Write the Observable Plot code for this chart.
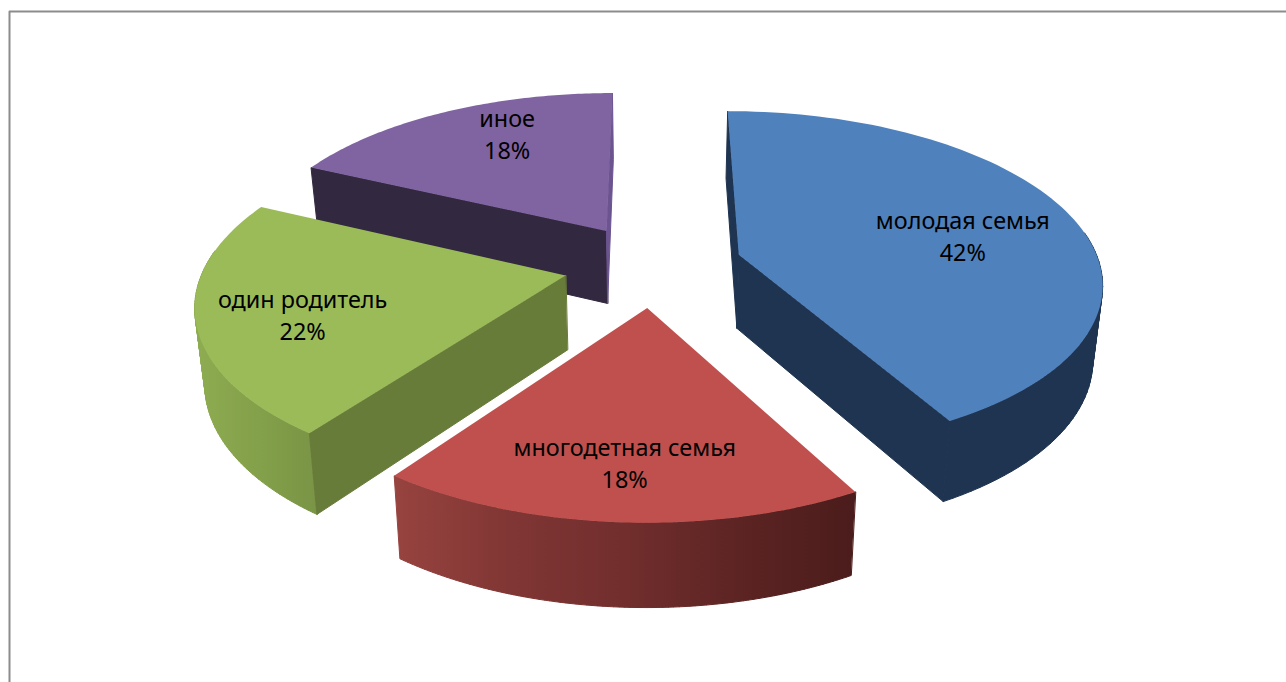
<!DOCTYPE html>
<html lang="ru">
<head>
<meta charset="utf-8">
<style>
html,body{margin:0;padding:0;background:#fff;overflow:hidden}
svg{display:block}
</style>
<script src="https://cdn.jsdelivr.net/npm/d3@7"></script>
<script src="https://cdn.jsdelivr.net/npm/@observablehq/plot@0.6"></script>
</head>
<body>
<script>
// ---- data ----
const categories = ["молодая семья", "многодетная семья", "один родитель", "иное"];
const shares = [42, 18, 22, 18];

// ---- styling ----
const topColors = ["#4f81bd", "#c0504d", "#9bbb59", "#8064a2"];
const startWallColors = ["#1f3450", null, "#687c3a", "#32283f"];
const endWallColors = ["#1f3450", null, null, "#6b5490"];
const rimStops = [
  [[0, "#1f3450"], [1, "#1f3450"]],
  [[0, "#97433f"], [0.25, "#803634"], [0.5, "#712e2d"], [0.75, "#5c2423"], [1, "#4a1c1b"]],
  [[0, "#8dab50"], [0.5, "#83a04a"], [1, "#799445"]],
  [[0, "#6b5490"], [1, "#6b5490"]]
];
const rimExtent = [[940, 1105], [395, 855], [200, 318], [310, 615]];
const labelRadius = [0.65, 0.76, 0.726, 0.74];
const labelTurn = [4.6, 0.25, -4.2, 6.4];
const paintOrder = [3, 2, 0, 1];

// ---- perspective of the pie plane ----
const view = {cx: 652.5, cy: 264.5, ax: 361, ay: 168, p: 0.15, explode: 0.2476, depth: 74, depthPower: 0.66, shrink: 0.978, rimFacing: 0.15};
const W = 1286, H = 682;

function project(X, Y, lower) {
  const w = 1 + view.p * Y;
  let sx = view.cx + view.ax * X / w;
  let sy = view.cy - view.ay * Y / w;
  if (lower) {
    sx = view.cx + (sx - view.cx) * view.shrink;
    sy += view.depth / Math.pow(w, view.depthPower);
  }
  return [sx, sy];
}

const total = d3.sum(shares);
let cum = 0;
const slices = shares.map((v, i) => {
  const a0 = cum / total * 2 * Math.PI;
  cum += v;
  const a1 = cum / total * 2 * Math.PI;
  const mid = (a0 + a1) / 2;
  const ox = view.explode * Math.sin(mid), oy = view.explode * Math.cos(mid);
  const angles = d3.range(0, 91).map(k => a0 + (a1 - a0) * k / 90);
  const at = (a, lower) => project(ox + Math.sin(a), oy + Math.cos(a), lower);
  const apex = lower => project(ox, oy, lower);
  return {i, a0, a1, mid, ox, oy, angles, at, apex};
});

const poly = pts => ({type: "Polygon", coordinates: [[...pts, pts[0]]]});
const oriented = pts => d3.polygonArea(pts) < 0 ? pts.slice().reverse() : pts;
// the rim is a set of quads on the side facing the viewer, so its silhouette follows
// the tangent between the upper and lower arcs and nothing shows past the far arc
const rimShape = s => {
  const near = s.angles.filter(a => Math.cos(a) < view.rimFacing);
  return {
    type: "MultiPolygon",
    coordinates: near.slice(1).map((a, k) => {
      const b = near[k];
      const q = oriented([s.at(b, false), s.at(a, false), s.at(a, true), s.at(b, true)]);
      return [[...q, q[0]]];
    })
  };
};

const defs = () => {
  const d = d3.create("svg:defs");
  rimStops.forEach((stops, i) => {
    const g = d.append("linearGradient").attr("id", "rim" + i)
      .attr("gradientUnits", "userSpaceOnUse")
      .attr("x1", rimExtent[i][0]).attr("x2", rimExtent[i][1]).attr("y1", 0).attr("y2", 0);
    stops.forEach(([o, c]) => g.append("stop").attr("offset", o).attr("stop-color", c));
  });
  return d.node();
};

const marks = [defs];

// chart-area border: only its left and top edges are in the picture
marks.push(Plot.geo([{type: "LineString", coordinates: [[9, H], [9, 11], [W, 11]]}],
  {stroke: "#8c8c8c", strokeWidth: 2, fill: "none"}));

for (const idx of paintOrder) {
  const s = slices[idx];
  const endWall = [s.apex(false), s.at(s.a1, false), s.at(s.a1, true), s.apex(true)];
  const startWall = [s.apex(false), s.at(s.a0, false), s.at(s.a0, true), s.apex(true)];
  const top = [s.apex(false), ...s.angles.map(a => s.at(a, false))];
  const rim = rimShape(s);
  if (rim.coordinates.length) marks.push(Plot.geo([rim], {fill: `url(#rim${idx})`, stroke: `url(#rim${idx})`, strokeWidth: 1}));
  if (startWallColors[idx]) marks.push(Plot.geo([poly(startWall)], {fill: startWallColors[idx], stroke: startWallColors[idx], strokeWidth: 1}));
  if (endWallColors[idx]) marks.push(Plot.geo([poly(endWall)], {fill: endWallColors[idx], stroke: endWallColors[idx], strokeWidth: 1}));
  marks.push(Plot.geo([poly(top)], {fill: topColors[idx]}));
}

const labels = slices.map((s, i) => {
  const a = s.mid + labelTurn[i] * Math.PI / 180;
  const [x, y] = project(s.ox + labelRadius[i] * Math.sin(a), s.oy + labelRadius[i] * Math.cos(a), false);
  return {x, y, text: `${categories[i]}\n${shares[i]}%`};
});
marks.push(Plot.text(labels, {
  x: "x", y: "y", dy: -2.5, text: "text", fill: "#000",
  fontSize: 23.4, lineHeight: 1.37, fontFamily: "'Noto Sans', 'Open Sans', sans-serif"
}));

const chart = Plot.plot({
  width: W, height: H, margin: 0,
  style: {background: "#fff"},
  projection: d3.geoIdentity(),
  marks
});
document.body.append(chart);
</script>
</body>
</html>
